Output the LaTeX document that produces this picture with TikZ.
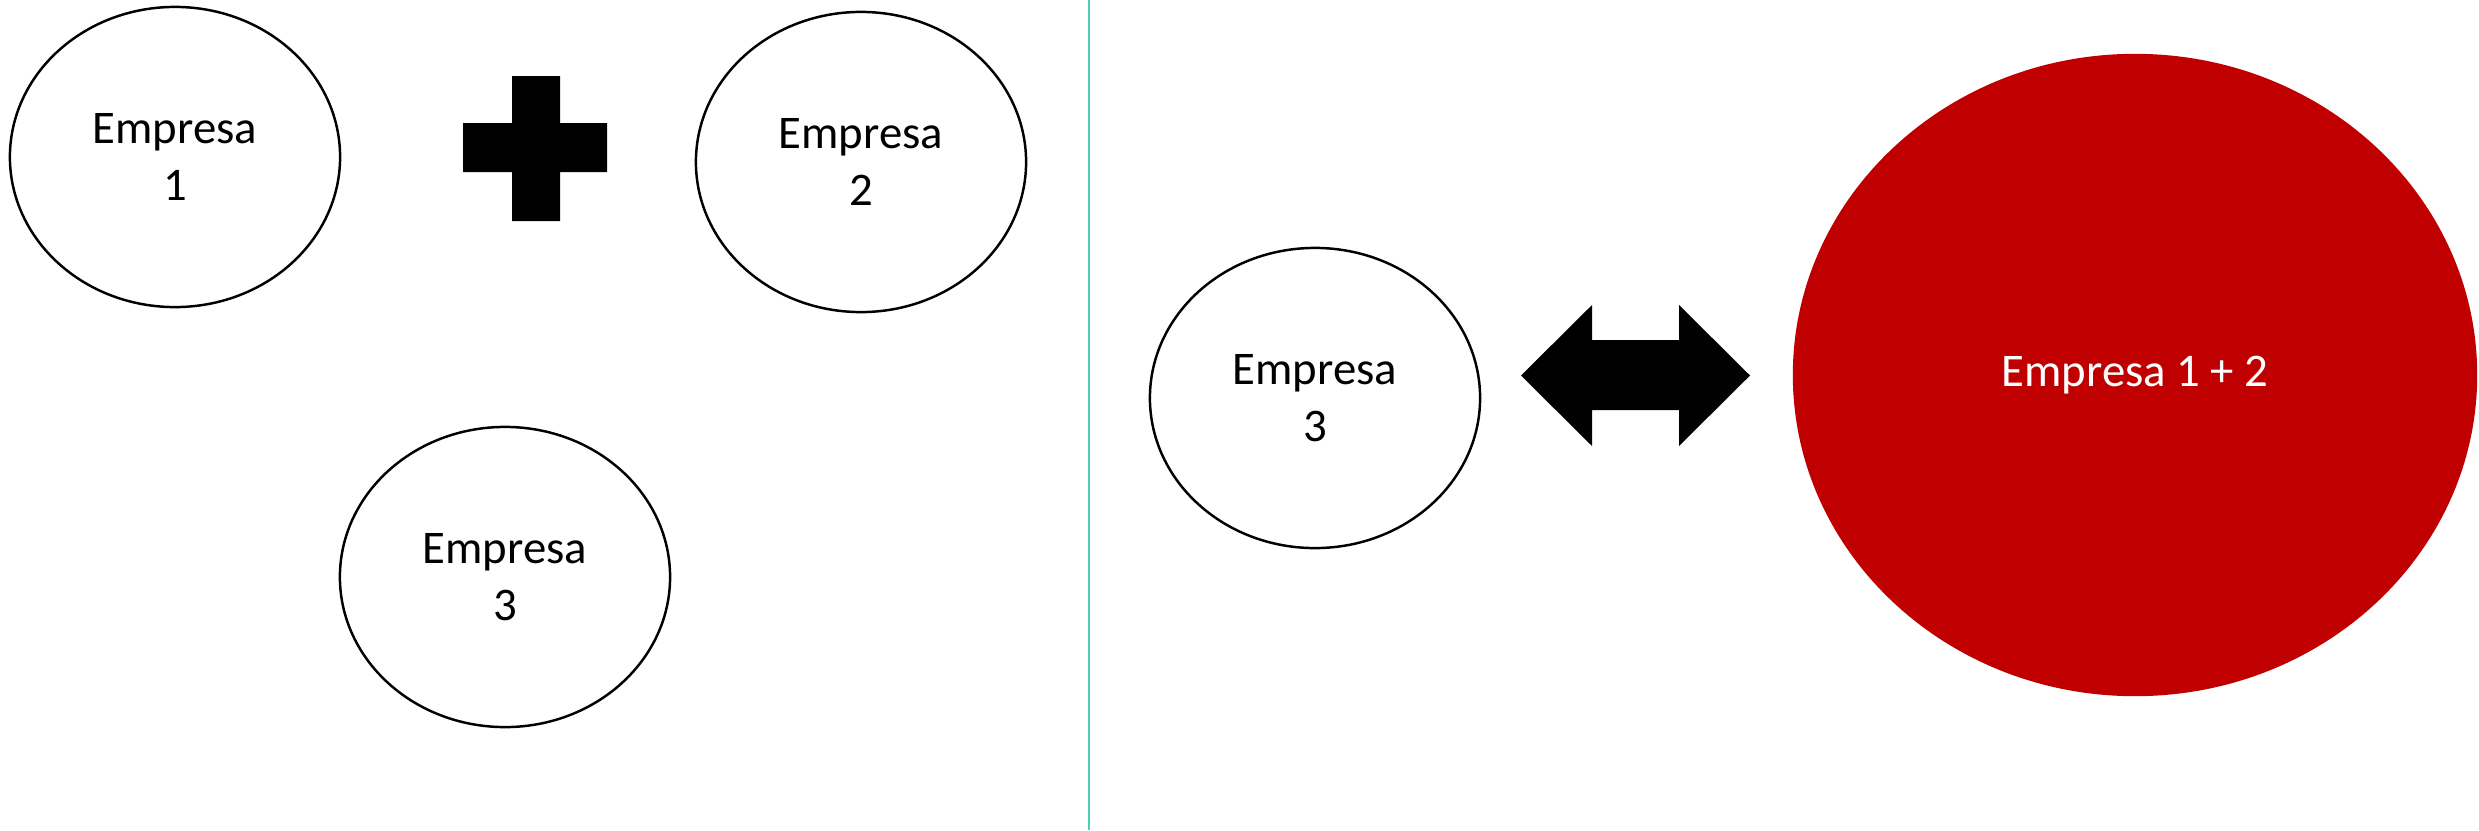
\documentclass[tikz,border=0pt]{standalone}
\usepackage{fontspec}
\setmainfont{Carlito}
\usetikzlibrary{shapes.geometric}
\definecolor{fusionred}{RGB}{192,0,0}
\definecolor{splitline}{RGB}{75,208,180}
\tikzset{
  firm/.style={ellipse,draw,line width=0.7pt,minimum width=3.3cm,minimum height=3cm,
    inner sep=0pt,align=center,font=\fontsize{13.3}{16.2}\selectfont},
  merged/.style={ellipse,fill=fusionred,text=white,minimum width=6.84cm,minimum height=6.42cm,
    inner sep=0pt,font=\fontsize{13.3}{16.2}\selectfont}
}
\begin{document}
\begin{tikzpicture}[x=0.01cm,y=-0.01cm]
\useasboundingbox (0,0) rectangle (2479,830);
\fill[white] (0,0) rectangle (2479,830);

% left side: before
\node[firm] (e1) at (175,157) {Empresa\\1};
\node[firm] (e2) at (861,162) {Empresa\\2};
\node[firm] (e3) at (505,577) {Empresa\\3};
\fill (512,76) -- (560,76) -- (560,123) -- (607,123) -- (607,172) -- (560,172)
  -- (560,221) -- (512,221) -- (512,172) -- (463,172) -- (463,123) -- (512,123) -- cycle;

\draw[splitline,line width=0.6pt] (1089,0) -- (1089,830);

% right side: after
\node[firm] (f3) at (1315,398) {Empresa\\3};
\node[merged] (f12) at (2135,375) {Empresa 1 + 2};
\fill (1521,375.5) -- (1592,305) -- (1592,340) -- (1679,340) -- (1679,305) -- (1750,375.5)
  -- (1679,446) -- (1679,410) -- (1592,410) -- (1592,446) -- cycle;
\end{tikzpicture}
\end{document}
